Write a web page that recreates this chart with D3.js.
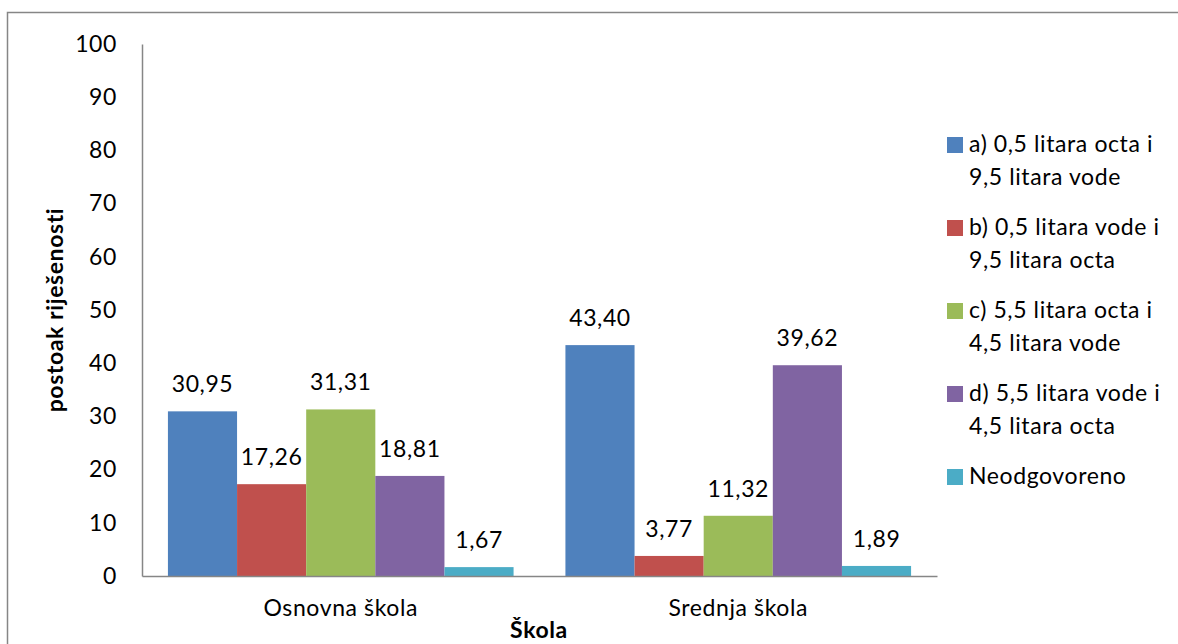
<!DOCTYPE html>
<html>
<head>
<meta charset="utf-8">
<script src="https://cdn.jsdelivr.net/npm/d3@7"></script>
<style>
  html, body { margin: 0; padding: 0; background: #fff; }
  svg text { font-family: Lato, "Open Sans", sans-serif; fill: #000; letter-spacing: 0.6px; }
</style>
</head>
<body>
<svg id="chart" width="1178" height="644"></svg>
<script>
// School levels on the x axis
const categories = ["Osnovna škola", "Srednja škola"];
// Answer options (one bar per option in each group)
const seriesNames = [
  ["a) 0,5 litara octa i", "9,5 litara vode"],
  ["b) 0,5 litara vode i", "9,5 litara octa"],
  ["c) 5,5 litara octa i", "4,5 litara vode"],
  ["d) 5,5 litara vode i", "4,5 litara octa"],
  ["Neodgovoreno"]
];
const seriesA = [30.95, 43.40];
const seriesB = [17.26, 3.77];
const seriesC = [31.31, 11.32];
const seriesD = [18.81, 39.62];
const seriesN = [1.67, 1.89];
const yTicks = [0, 10, 20, 30, 40, 50, 60, 70, 80, 90, 100];
const colors = ["#4F81BD", "#C0504D", "#9BBB59", "#8064A2", "#4BACC6"];

const seriesValues = [seriesA, seriesB, seriesC, seriesD, seriesN];

const FS = 23;
const svg = d3.select("#chart");
const plot = { left: 142, right: 937, top: 44, bottom: 576 };

// Chart frame
svg.append("rect")
  .attr("x", 7.5).attr("y", 12.5)
  .attr("width", 1200).attr("height", 700)
  .attr("fill", "none").attr("stroke", "#868686").attr("stroke-width", 1.5);

const x0 = d3.scaleBand().domain(categories).range([plot.left, plot.right]).padding(0);
const x1 = d3.scaleBand().domain(d3.range(seriesValues.length))
  .range([0, x0.bandwidth()]).paddingInner(0).paddingOuter(0.375);
const y = d3.scaleLinear().domain([0, 100]).range([plot.bottom, plot.top]);

// Bars
const groups = svg.append("g").selectAll("g")
  .data(categories).join("g")
  .attr("transform", d => `translate(${x0(d)},0)`);

groups.selectAll("rect")
  .data((c, ci) => seriesValues.map((s, si) => ({ si, v: s[ci] })))
  .join("rect")
  .attr("x", d => x1(d.si))
  .attr("width", x1.bandwidth())
  .attr("y", d => y(d.v))
  .attr("height", d => y(0) - y(d.v))
  .attr("fill", d => colors[d.si]);

// Value labels
groups.selectAll("text.val")
  .data((c, ci) => seriesValues.map((s, si) => ({ si, v: s[ci] })))
  .join("text")
  .attr("class", "val")
  .attr("x", d => x1(d.si) + x1.bandwidth() / 2)
  .attr("y", d => y(d.v) - 19)
  .attr("text-anchor", "middle")
  .attr("font-size", FS)
  .text(d => d3.format(".2f")(d.v).replace(".", ","));

// Y axis
const yAxis = svg.append("g")
  .attr("transform", `translate(${plot.left},0)`)
  .call(d3.axisLeft(y).tickValues(yTicks).tickSize(0).tickPadding(25).tickFormat(d3.format("d")));
yAxis.select(".domain").attr("stroke", "#868686").attr("stroke-width", 1.5);
yAxis.selectAll("text").attr("font-size", FS).attr("font-family", "Lato, sans-serif").attr("fill", "#000");

// X axis
const xAxis = svg.append("g")
  .attr("transform", `translate(0,${plot.bottom})`)
  .call(d3.axisBottom(x0).tickSize(0).tickPadding(24));
xAxis.select(".domain").attr("stroke", "#868686").attr("stroke-width", 1.5);
xAxis.selectAll("text").attr("font-size", FS).attr("font-family", "Lato, sans-serif").attr("fill", "#000");

// Axis titles
svg.append("text")
  .attr("transform", `translate(63,${(plot.top + plot.bottom) / 2}) rotate(-90)`)
  .attr("text-anchor", "middle")
  .attr("font-size", FS).attr("font-weight", "bold")
  .text("postoak riješenosti");

svg.append("text")
  .attr("x", 539).attr("y", 638)
  .attr("text-anchor", "middle")
  .attr("font-size", FS).attr("font-weight", "bold")
  .text("Škola");

// Legend
const legend = svg.append("g").attr("transform", "translate(947,0)");
const legendY = d3.scaleLinear().domain([0, 4]).range([152, 484]);
const items = legend.selectAll("g").data(seriesNames).join("g")
  .attr("transform", (d, i) => `translate(0,${legendY(i)})`);
items.append("rect")
  .attr("x", 0).attr("y", -15).attr("width", 16).attr("height", 16)
  .attr("fill", (d, i) => colors[i]);
items.append("text")
  .attr("x", 22).attr("font-size", FS)
  .selectAll("tspan").data(d => d).join("tspan")
  .attr("x", 22).attr("dy", (d, i) => i === 0 ? 0 : 33)
  .text(d => d);
</script>
</body>
</html>
